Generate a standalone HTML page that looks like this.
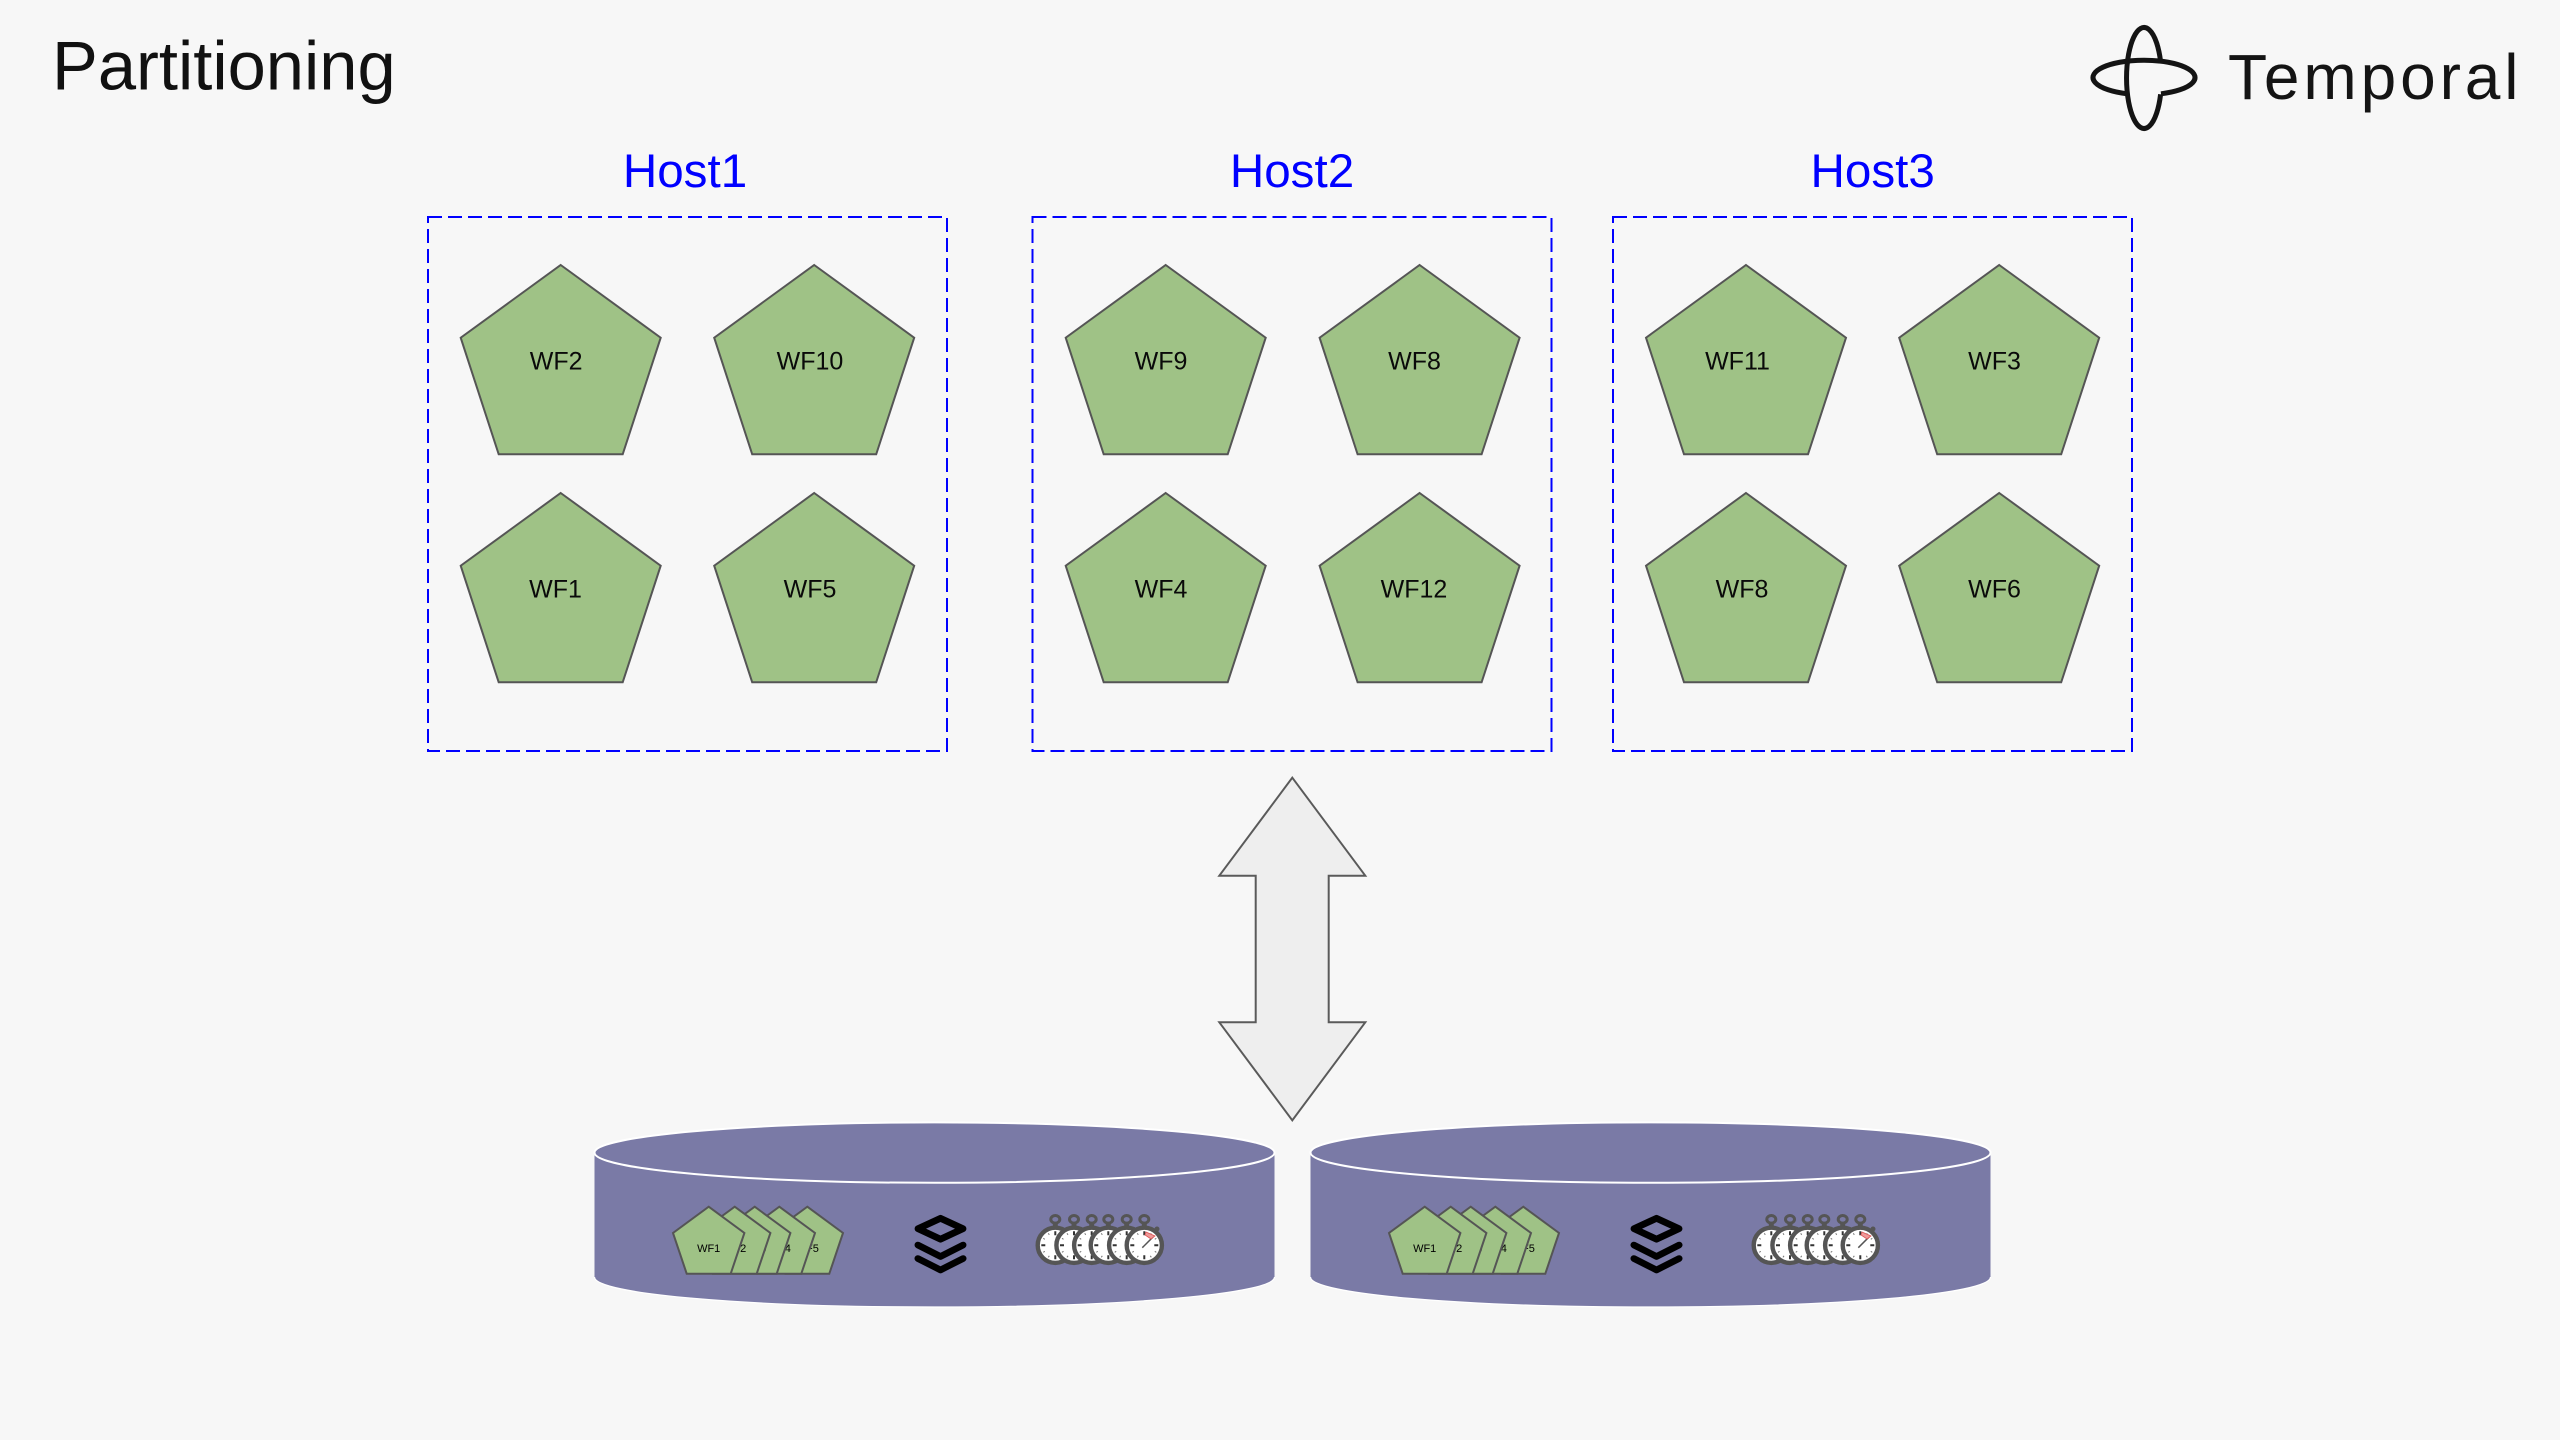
<!DOCTYPE html>
<html><head><meta charset="utf-8"><title>Partitioning</title>
<style>
html,body{margin:0;padding:0;background:#f7f7f7;width:2560px;height:1440px;overflow:hidden}
svg{display:block}
text{font-family:"Liberation Sans",Arial,sans-serif}
</style></head><body>
<svg xmlns="http://www.w3.org/2000/svg" width="2560" height="1440" viewBox="0 0 2560 1440">
<defs>
<polygon id="p" points="0,0 100,72.7 62,189.3 -62,189.3 -100,72.7" fill="#9fc286" stroke="#555" stroke-width="2" stroke-linejoin="miter"/>
<polygon id="sp" points="0,0 35.7,26.3 22,67 -22,67 -35.7,26.3" fill="#9fc286" stroke="#555" stroke-width="2"/>
<g id="watch">
<ellipse cx="0" cy="-26" rx="4.5" ry="3.8" fill="none" stroke="#555" stroke-width="3"/>
<rect x="-2.5" y="-23" width="5" height="7" fill="#555"/>
<circle cx="0" cy="0" r="17.6" fill="#fff" stroke="#555" stroke-width="4.4"/>
<path d="M0,-14V-10M0,14V10M-14,0H-10M14,0H10" stroke="#333" stroke-width="2"/>
<path d="M7,-12l-1,1.5M12,-7l-1.5,1M7,12l-1,-1.5M12,7l-1.5,-1M-7,-12l1,1.5M-12,-7l1.5,1M-7,12l1,-1.5M-12,7l1.5,-1" stroke="#777" stroke-width="1"/>
</g>
<g id="stack">
<path d="M940.5,1218.3 L963,1228.7 L940.5,1239.2 L918,1228.7 Z" fill="none" stroke="#000" stroke-width="6.8" stroke-linejoin="round"/>
<path d="M917.8,1245 L940.5,1256.5 L963.2,1245" fill="none" stroke="#000" stroke-width="6.6" stroke-linecap="round" stroke-linejoin="round"/>
<path d="M917.8,1258.5 L940.5,1270 L963.2,1258.5" fill="none" stroke="#000" stroke-width="6.6" stroke-linecap="round" stroke-linejoin="round"/>
</g>
<g id="cyl">
<path d="M594.5,1152 V1277 C594.5,1294 746,1307 934.5,1307 C1123,1307 1274.5,1294 1274.5,1277 V1152 Z" fill="#7a7aa6"/>
<ellipse cx="934.5" cy="1152.6" rx="340" ry="30.2" fill="#7a7aa6" stroke="#fff" stroke-width="2"/>
<path d="M594.5,1277 C594.5,1294 746,1307 934.5,1307 C1123,1307 1274.5,1294 1274.5,1277" fill="none" stroke="#fff" stroke-width="1.2"/>
<use href="#sp" x="807.3" y="1206.7"/>
<text x="807.3" y="1252" font-size="11" text-anchor="middle" fill="#000">WF5</text>
<use href="#sp" x="779.3" y="1206.7"/>
<text x="779.3" y="1252" font-size="11" text-anchor="middle" fill="#000">WF4</text>
<use href="#sp" x="754.7" y="1206.7"/>
<text x="754.7" y="1252" font-size="11" text-anchor="middle" fill="#000">WF3</text>
<use href="#sp" x="734.7" y="1206.7"/>
<text x="734.7" y="1252" font-size="11" text-anchor="middle" fill="#000">WF2</text>
<use href="#sp" x="708.7" y="1206.7"/>
<text x="708.7" y="1252" font-size="11" text-anchor="middle" fill="#000">WF1</text>
<use href="#stack"/>
<use href="#watch" x="1055.3" y="1245.3"/>
<use href="#watch" x="1074" y="1245.3"/>
<use href="#watch" x="1091.7" y="1245.3"/>
<use href="#watch" x="1108.3" y="1245.3"/>
<use href="#watch" x="1126.7" y="1245.3"/>
<use href="#watch" x="1144.3" y="1245.3"/>
<path d="M1142.3,1247.7 L1153.3,1236.7" stroke="#555" stroke-width="1.5"/>
<path d="M1146,1232 L1155,1236 L1151,1239 L1145,1235 Z" fill="#e99" stroke="#d55" stroke-width=".8"/>
<circle cx="1157" cy="1229" r="2.5" fill="#555"/>
</g>
</defs>

<rect width="2560" height="1440" fill="#f7f7f7"/>

<text x="52" y="89.5" font-size="68.7" fill="#111">Partitioning</text>

<g fill="none" stroke="#141414" stroke-width="5">
<path d="M2160.6,94.3 A17.5,50.5 0 1 1 2160.6,61.7"/>
<path d="M2127,93.8 A51,17.3 0 1 1 2161,93.8"/>
</g>
<text x="2228" y="99" font-size="64" letter-spacing="3.9" fill="#141414">Temporal</text>

<g fill="#0000ff" font-size="47.6" text-anchor="middle">
<text x="685" y="187">Host1</text>
<text x="1292" y="187">Host2</text>
<text x="1872.7" y="187">Host3</text>
</g>

<g fill="none" stroke="#0000ff" stroke-width="2" stroke-dasharray="14 6">
<rect x="428" y="217" width="519" height="534"/>
<rect x="1032.5" y="217" width="519" height="534"/>
<rect x="1613" y="217" width="519" height="534"/>
</g>

<use href="#p" x="560.7" y="265"/><use href="#p" x="814.2" y="265"/>
<use href="#p" x="560.7" y="493"/><use href="#p" x="814.2" y="493"/>
<use href="#p" x="1165.7" y="265"/><use href="#p" x="1419.6" y="265"/>
<use href="#p" x="1165.7" y="493"/><use href="#p" x="1419.6" y="493"/>
<use href="#p" x="1746" y="265"/><use href="#p" x="1999.2" y="265"/>
<use href="#p" x="1746" y="493"/><use href="#p" x="1999.2" y="493"/>

<g font-size="25" fill="#0a0a0a" text-anchor="middle">
<text x="556.2" y="369.3">WF2</text><text x="810" y="369.3">WF10</text>
<text x="555.5" y="597.3">WF1</text><text x="810" y="597.3">WF5</text>
<text x="1161" y="369.3">WF9</text><text x="1414.5" y="369.3">WF8</text>
<text x="1161" y="597.3">WF4</text><text x="1414" y="597.3">WF12</text>
<text x="1737.5" y="369.3">WF11</text><text x="1994.5" y="369.3">WF3</text>
<text x="1742" y="597.3">WF8</text><text x="1994.5" y="597.3">WF6</text>
</g>

<polygon points="1292.3,777.7 1365.3,875.7 1328.7,875.7 1328.7,1022.3 1365.3,1022.3 1292.3,1120.3 1219.3,1022.3 1255.7,1022.3 1255.7,875.7 1219.3,875.7" fill="#eeeeee" stroke="#5a5a5a" stroke-width="2"/>

<use href="#cyl"/>
<use href="#cyl" x="716"/>
</svg>
</body></html>
